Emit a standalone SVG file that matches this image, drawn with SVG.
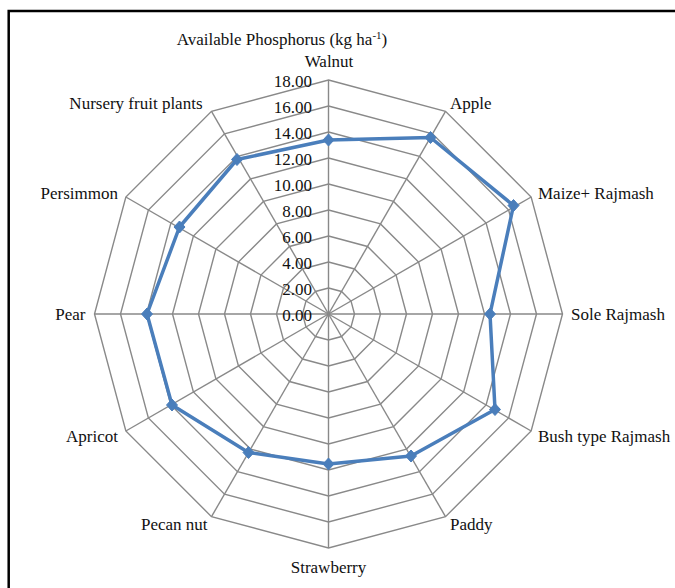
<svg xmlns="http://www.w3.org/2000/svg" width="675" height="588" viewBox="0 0 675 588">
<style>
text{font-size:17px;fill:#111}
.ring{fill:none;stroke:#898989;stroke-width:1.4}
.spoke{stroke:#898989;stroke-width:1.4}
.tick{text-anchor:end}
.lab-e{text-anchor:end}
.lab-m{text-anchor:middle}
.series{fill:none;stroke:#4A7EBB;stroke-width:3.5;stroke-linejoin:round}
.mk{fill:#4A7EBB;stroke:#4A7EBB;stroke-width:1}
</style>
<defs>
<path id="dm" d="M0,-6 L5.5,0 L0,6 L-5.5,0Z"/>
</defs>
<rect x="0" y="0" width="675" height="588" fill="#fff"/>
<rect x="8.7" y="11" width="700" height="700" fill="none" stroke="#000" stroke-width="2.5"/>
<g id="grid">
<polygon class="ring" points="328.5,288 341.5,291.48 351.02,301 354.5,314 351.02,327 341.5,336.52 328.5,340 315.5,336.52 305.98,327 302.5,314 305.98,301 315.5,291.48"/>
<polygon class="ring" points="328.5,262 354.5,268.97 373.53,288 380.5,314 373.53,340 354.5,359.03 328.5,366 302.5,359.03 283.47,340 276.5,314 283.47,288 302.5,268.97"/>
<polygon class="ring" points="328.5,236 367.5,246.45 396.05,275 406.5,314 396.05,353 367.5,381.55 328.5,392 289.5,381.55 260.95,353 250.5,314 260.95,275 289.5,246.45"/>
<polygon class="ring" points="328.5,210 380.5,223.93 418.57,262 432.5,314 418.57,366 380.5,404.07 328.5,418 276.5,404.07 238.43,366 224.5,314 238.43,262 276.5,223.93"/>
<polygon class="ring" points="328.5,184 393.5,201.42 441.08,249 458.5,314 441.08,379 393.5,426.58 328.5,444 263.5,426.58 215.92,379 198.5,314 215.92,249 263.5,201.42"/>
<polygon class="ring" points="328.5,158 406.5,178.9 463.6,236 484.5,314 463.6,392 406.5,449.1 328.5,470 250.5,449.1 193.4,392 172.5,314 193.4,236 250.5,178.9"/>
<polygon class="ring" points="328.5,132 419.5,156.38 486.12,223 510.5,314 486.12,405 419.5,471.62 328.5,496 237.5,471.62 170.88,405 146.5,314 170.88,223 237.5,156.38"/>
<polygon class="ring" points="328.5,106 432.5,133.87 508.63,210 536.5,314 508.63,418 432.5,494.13 328.5,522 224.5,494.13 148.37,418 120.5,314 148.37,210 224.5,133.87"/>
<polygon class="ring" points="328.5,80 445.5,111.35 531.15,197 562.5,314 531.15,431 445.5,516.65 328.5,548 211.5,516.65 125.85,431 94.5,314 125.85,197 211.5,111.35"/>
</g>
<g id="connectors">
<line class="spoke" x1="328.5" y1="314" x2="328.5" y2="80"/>
<line class="spoke" x1="328.5" y1="314" x2="445.5" y2="111.35"/>
<line class="spoke" x1="328.5" y1="314" x2="531.15" y2="197"/>
<line class="spoke" x1="328.5" y1="314" x2="562.5" y2="314"/>
<line class="spoke" x1="328.5" y1="314" x2="531.15" y2="431"/>
<line class="spoke" x1="328.5" y1="314" x2="445.5" y2="516.65"/>
<line class="spoke" x1="328.5" y1="314" x2="328.5" y2="548"/>
<line class="spoke" x1="328.5" y1="314" x2="211.5" y2="516.65"/>
<line class="spoke" x1="328.5" y1="314" x2="125.85" y2="431"/>
<line class="spoke" x1="328.5" y1="314" x2="94.5" y2="314"/>
<line class="spoke" x1="328.5" y1="314" x2="125.85" y2="197"/>
<line class="spoke" x1="328.5" y1="314" x2="211.5" y2="111.35"/>
</g>
<g font-family="Liberation Serif, DejaVu Serif, serif">
<g id="ticks">
<text class="tick" x="312" y="320.5">0.00</text>
<text class="tick" x="312" y="294.5">2.00</text>
<text class="tick" x="312" y="268.5">4.00</text>
<text class="tick" x="312" y="242.5">6.00</text>
<text class="tick" x="312" y="216.5">8.00</text>
<text class="tick" x="312" y="190.5">10.00</text>
<text class="tick" x="312" y="164.5">12.00</text>
<text class="tick" x="312" y="138.5">14.00</text>
<text class="tick" x="312" y="112.5">16.00</text>
<text class="tick" x="312" y="86.5">18.00</text>
</g>
<g id="title"><text class="lab-m" x="282" y="45">Available Phosphorus (kg ha<tspan dy="-6" font-size="11">-1</tspan><tspan dy="6">)</tspan></text></g>
<g id="walnut"><text class="lab-m" x="329" y="66.5">Walnut</text></g>
<g id="apple"><text x="450" y="109">Apple</text></g>
<g id="maize-rajmash"><text x="538" y="199">Maize+ Rajmash</text></g>
<g id="sole-rajmash"><text x="571" y="319.5">Sole Rajmash</text></g>
<g id="bush-rajmash"><text x="538" y="441.5">Bush type Rajmash</text></g>
<g id="paddy"><text x="450" y="530">Paddy</text></g>
<g id="strawberry"><text class="lab-m" x="328.5" y="573">Strawberry</text></g>
<g id="pecan-nut"><text class="lab-e" x="207.5" y="530">Pecan nut</text></g>
<g id="apricot"><text class="lab-e" x="118" y="441.5">Apricot</text></g>
<g id="pear"><text class="lab-e" x="85.5" y="319.5">Pear</text></g>
<g id="persimmon"><text class="lab-e" x="118" y="199">Persimmon</text></g>
<g id="nursery"><text class="lab-e" x="202.5" y="109">Nursery fruit plants</text></g>
</g>
<g id="series">
<polygon class="series" points="328.5,140 430.5,137.5 513.5,205.5 490,314 495,409.5 411,456 328.5,464 248.5,452.5 172,405 147,314 179.5,227 237,159.5"/>
<g class="mk">
<use href="#dm" x="328.5" y="140"/>
<use href="#dm" x="430.5" y="137.5"/>
<use href="#dm" x="513.5" y="205.5"/>
<use href="#dm" x="490" y="314"/>
<use href="#dm" x="495" y="409.5"/>
<use href="#dm" x="411" y="456"/>
<use href="#dm" x="328.5" y="464"/>
<use href="#dm" x="248.5" y="452.5"/>
<use href="#dm" x="172" y="405"/>
<use href="#dm" x="147" y="314"/>
<use href="#dm" x="179.5" y="227"/>
<use href="#dm" x="237" y="159.5"/>
</g>
</g>
</svg>
